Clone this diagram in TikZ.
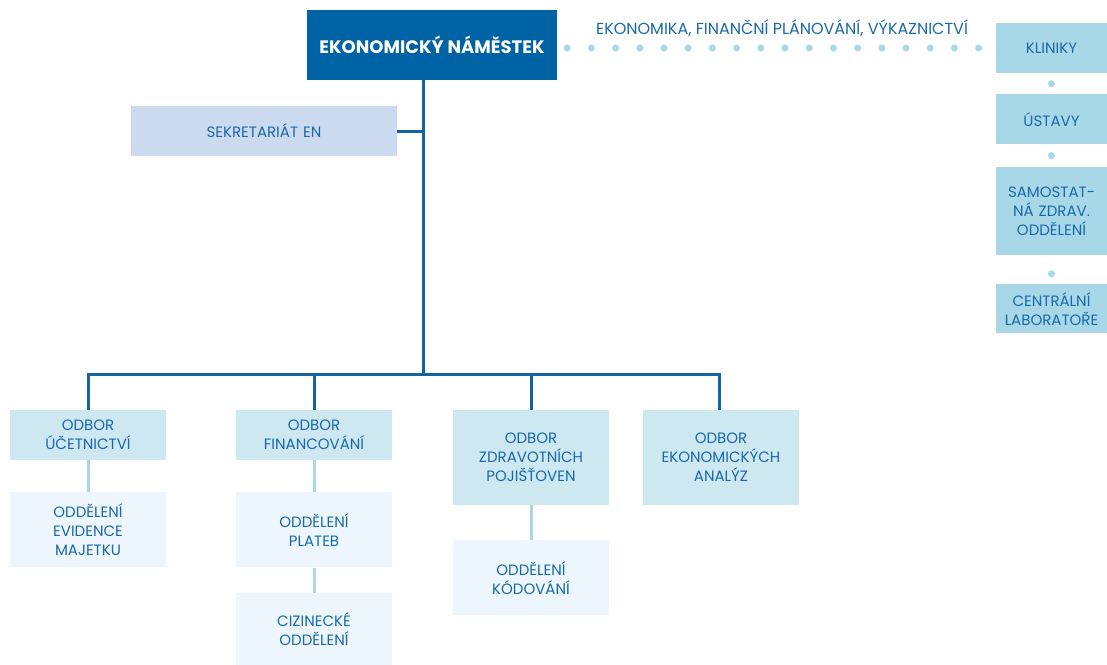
\documentclass[tikz,border=0pt]{standalone}
\usepackage{fontspec}
\setmainfont{Poppins}
\usetikzlibrary{positioning}

\definecolor{headblue}{RGB}{0,99,166}
\definecolor{lineblue}{RGB}{20,100,165}
\definecolor{textblue}{RGB}{25,105,170}
\definecolor{sidefill}{RGB}{168,216,232}
\definecolor{odborfill}{RGB}{205,232,241}
\definecolor{oddfill}{RGB}{236,246,252}
\definecolor{sekfill}{RGB}{204,218,240}

\tikzstyle{chief} = [rectangle, fill=headblue, text=white, font=\fontsize{18}{21}\selectfont\bfseries, minimum width=250pt, minimum height=70pt, inner sep=0pt]
\tikzstyle{odbor} = [rectangle, fill=odborfill, text=textblue, text width=156pt, align=center, minimum height=50pt, inner sep=0pt, font=\fontsize{15}{19}\selectfont]
\tikzstyle{oddel} = [odbor, fill=oddfill, minimum height=75pt]
\tikzstyle{unit} = [odbor, fill=sidefill, text width=111pt]
\tikzstyle{sekr} = [odbor, fill=sekfill, text width=266pt]
\tikzstyle{bullet} = [circle, fill=sidefill, minimum size=7pt, inner sep=0pt]
\tikzstyle{bus} = [draw=lineblue, line width=3pt]
\tikzstyle{sub} = [draw=sidefill, line width=3pt]
\tikzstyle{dotline} = [draw=sidefill, line width=7pt, line cap=round, dash pattern=on 0pt off 24.2pt]

\begin{document}
\begin{tikzpicture}[x=1pt, y=-1pt]
\useasboundingbox (0,0) rectangle (1107,664);

%% NODES

\node (head) [chief] at (432,45) {EKONOMICKÝ NÁMĚSTEK};
\node (scope) [text=textblue, font=\fontsize{16}{19}\selectfont] at (782,28) {EKONOMIKA, FINANČNÍ PLÁNOVÁNÍ, VÝKAZNICTVÍ};
\node (sek) [sekr] at (264,131) {SEKRETARIÁT EN};

\node (kl) [unit] at (1051.5,48) {KLINIKY};
\node (us) [unit, below=21pt of kl] {ÚSTAVY};
\node (sam) [unit, below=22pt of us, minimum height=88pt] {SAMOSTAT-\\NÁ ZDRAV.\\ODDĚLENÍ};
\node (cen) [unit, below=29pt of sam, minimum height=49pt] {CENTRÁLNÍ\\LABORATOŘE};

\coordinate (trunk) at (423,374);

\node (uc) [odbor] at (88,435) {ODBOR\\ÚČETNICTVÍ};
\node (fin) [odbor] at (314,435) {ODBOR\\FINANCOVÁNÍ};
\node (zp) [odbor, minimum height=95pt] at (531,457.5) {ODBOR\\ZDRAVOTNÍCH\\POJIŠŤOVEN};
\node (ea) [odbor, minimum height=95pt] at (721,457.5) {ODBOR\\EKONOMICKÝCH\\ANALÝZ};

\node (ev) [oddel, below=32pt of uc] {ODDĚLENÍ\\EVIDENCE\\MAJETKU};
\node (pl) [oddel, below=32pt of fin] {ODDĚLENÍ\\PLATEB};
\node (ciz) [oddel, below=25pt of pl, minimum height=72pt] {CIZINECKÉ\\ODDĚLENÍ};
\node (kod) [oddel, below=35pt of zp] {ODDĚLENÍ\\KÓDOVÁNÍ};

%% ARROWS

\draw [dotline, shorten <=10pt, shorten >=17pt] (head.east |- kl.west) -- (kl.west);
\path (kl.south) -- (us.north) node [bullet, midway] {};
\path (us.south) -- (sam.north) node [bullet, midway] {};
\path (sam.south) -- (cen.north) node [bullet, pos=0.65] {};

\draw [bus] (head.south -| trunk) -- (trunk);
\draw [bus] (sek.east) -- (sek.east -| trunk);
\draw [bus] (uc.north) -- (uc.north |- trunk) -- ([xshift=-2pt]ea.north |- trunk) -- ([xshift=-2pt]ea.north);
\draw [bus] (fin.north) -- (fin.north |- trunk);
\draw [bus] (zp.north) -- (zp.north |- trunk);

\draw [sub] (uc) -- (ev);
\draw [sub] (fin) -- (pl);
\draw [sub] (pl) -- (ciz);
\draw [sub] (zp) -- (kod);
\end{tikzpicture}
\end{document}
